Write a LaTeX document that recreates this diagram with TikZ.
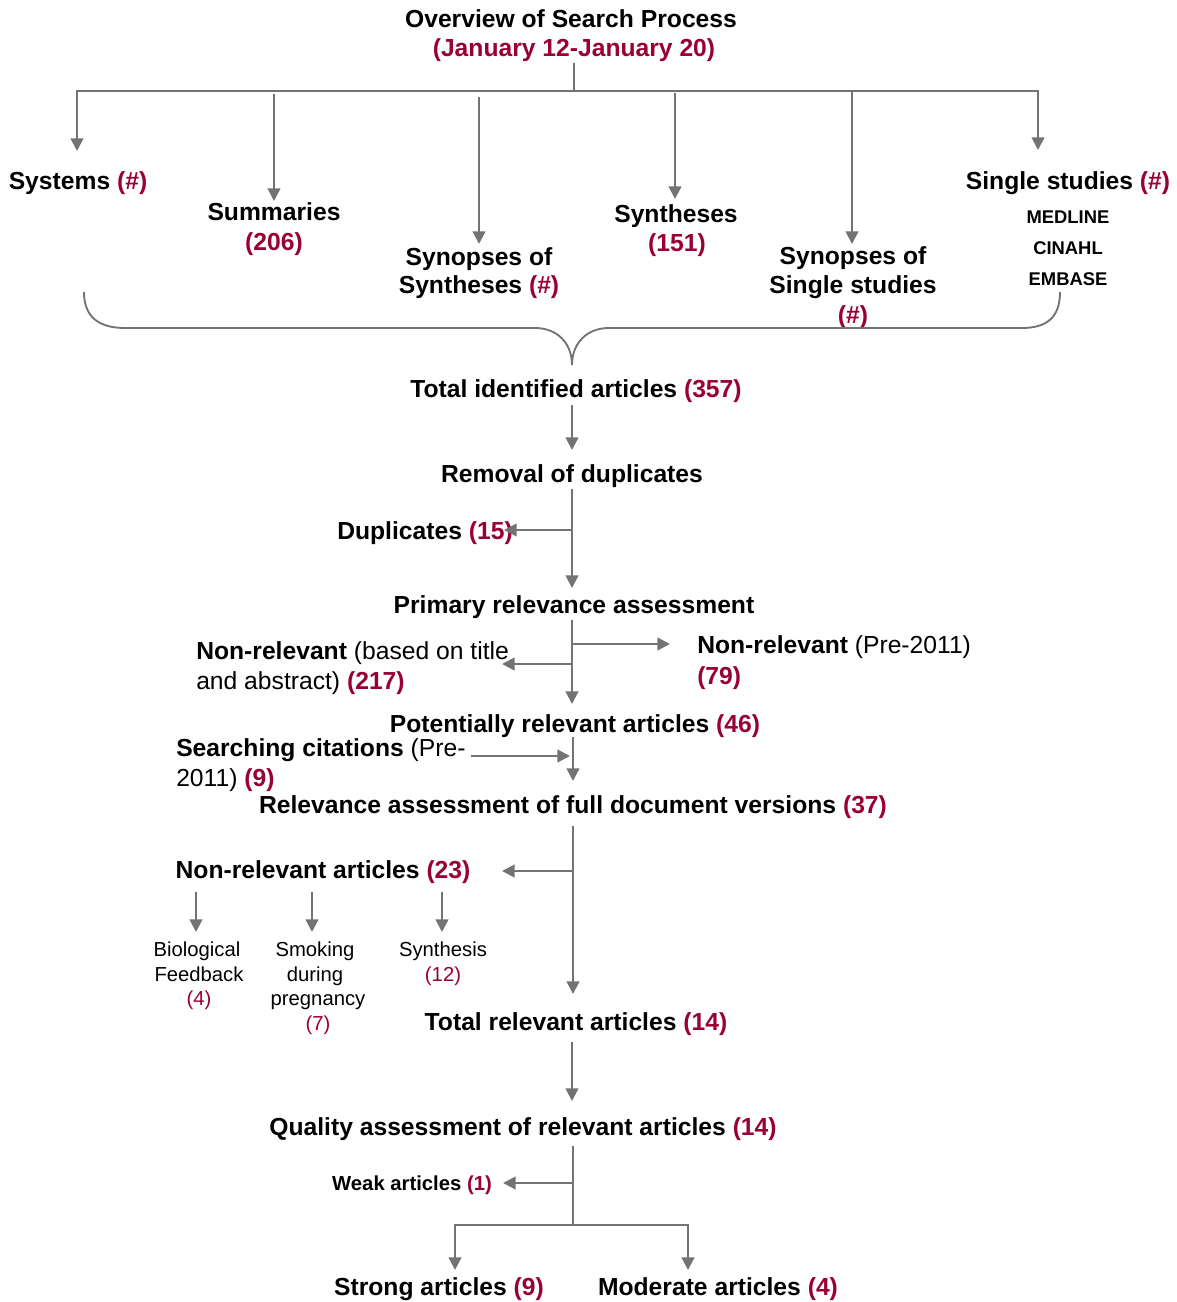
\documentclass[tikz,border=0pt]{standalone}
\usepackage{fontspec}
\setmainfont{Liberation Sans}
\usetikzlibrary{arrows.meta}
\definecolor{nr}{RGB}{153,0,51}
\definecolor{lg}{RGB}{115,115,115}
\newcommand\nm[1]{\textcolor{nr}{#1}}
\begin{document}
\begin{tikzpicture}[x=0.75pt,y=-0.75pt,
 >={Triangle[length=9.5pt,width=9.5pt]},
 ln/.style={draw=lg,line width=1.6pt},
 arr/.style={ln,->},
 big/.style={font=\fontsize{18.5}{22}\selectfont\bfseries,inner sep=0pt,anchor=base},
 mix/.style={font=\fontsize{18.5}{22}\selectfont,inner sep=0pt,anchor=base west},
 med/.style={font=\fontsize{15.2}{18}\selectfont\bfseries,inner sep=0pt,anchor=base},
 sml/.style={font=\fontsize{13.8}{16}\selectfont\bfseries,inner sep=0pt,anchor=base},
 reg/.style={font=\fontsize{15.2}{18}\selectfont,inner sep=0pt,anchor=base}]
\useasboundingbox (0,0) rectangle (1177,1302);

% ---------- texts ----------
\node[big] (t1) at (571,28) {Overview of Search Process};
\node[big] (t2) at (574,57) {\nm{(January 12-January 20)}};
\node[big] (sys) at (78,190) {Systems \nm{(\#)}};
\node[big] (sum1) at (274,220) {Summaries};
\node[big] (sum2) at (274,250) {\nm{(206)}};
\node[big] (sos1) at (479,265) {Synopses of};
\node[big] (sos2) at (479,293) {Syntheses \nm{(\#)}};
\node[big] (syn1) at (676,222) {Syntheses};
\node[big] (syn2) at (677,251) {\nm{(151)}};
\node[big] (sss1) at (853,264) {Synopses of};
\node[big] (sss2) at (853,293) {Single studies};
\node[big] (sss3) at (853,323) {\nm{(\#)}};
\node[big] (ss) at (1068,190) {Single studies \nm{(\#)}};
\node[sml] (db1) at (1068,223) {MEDLINE};
\node[sml] (db2) at (1068,254) {CINAHL};
\node[sml] (db3) at (1068,285) {EMBASE};
\node[big] (tia) at (576,397) {Total identified articles \nm{(357)}};
\node[big] (rem) at (572,482) {Removal of duplicates};
\node[big] (dup) at (425,539) {Duplicates \nm{(15)}};
\node[big] (pra) at (574,613) {Primary relevance assessment};
\node[mix] (nrt1) at (196,659) {\textbf{Non-relevant} (based on title};
\node[mix] (nrt2) at (196,689) {and abstract) \textbf{\nm{(217)}}};
\node[mix] (nrp1) at (697,653) {\textbf{Non-relevant} (Pre-2011)};
\node[mix] (nrp2) at (697,684) {\textbf{\nm{(79)}}};
\node[big] (pot) at (575,732) {Potentially relevant articles \nm{(46)}};
\node[mix] (sc1) at (176,756) {\textbf{Searching citations} (Pre-};
\node[mix] (sc2) at (176,786) {2011) \textbf{\nm{(9)}}};
\node[big] (raf) at (573,813) {Relevance assessment of full document versions \nm{(37)}};
\node[big] (nra) at (323,878) {Non-relevant articles \nm{(23)}};
\node[reg] (bf1) at (197,956) {Biological};
\node[reg] (bf2) at (199,981) {Feedback};
\node[reg] (bf3) at (199,1005) {\nm{(4)}};
\node[reg] (sp1) at (315,956) {Smoking};
\node[reg] (sp2) at (315,981) {during};
\node[reg] (sp3) at (318,1005) {pregnancy};
\node[reg] (sp4) at (318,1030) {\nm{(7)}};
\node[reg] (sy1) at (443,956) {Synthesis};
\node[reg] (sy2) at (443,981) {\nm{(12)}};
\node[big] (tra) at (576,1030) {Total relevant articles \nm{(14)}};
\node[big] (qa) at (523,1135) {Quality assessment of relevant articles \nm{(14)}};
\node[med] (weak) at (412,1190) {Weak articles \nm{(1)}};
\node[big] (strong) at (439,1295) {Strong articles \nm{(9)}};
\node[big] (mod) at (718,1295) {Moderate articles \nm{(4)}};

% ---------- junction coordinates ----------
\coordinate (tA) at (574,63);
\coordinate (tB) at (574,91);
\coordinate (bL) at (77,91);
\coordinate (bR) at (1038,91);
\coordinate (sysT) at (77,151);
\coordinate (ssT) at (1038,150);
\coordinate (sumA) at (274,94);  \coordinate (sumT) at (274,201);
\coordinate (sosA) at (479,97);  \coordinate (sosT) at (479,244);
\coordinate (synA) at (675,93);  \coordinate (synT) at (675,199);
\coordinate (sssA) at (852,92);  \coordinate (sssT) at (852,244);

\coordinate (a1s) at (572,405); \coordinate (a1e) at (572,450);
\coordinate (a2s) at (572,489); \coordinate (a2e) at (572,588);
\coordinate (a2b) at (572,530); \coordinate (dupT) at (504,530);
\coordinate (a3s) at (572,620); \coordinate (a3e) at (572,704);
\coordinate (a3r) at (572,644); \coordinate (nrpT) at (670,644);
\coordinate (a3l) at (572,664); \coordinate (nrtT) at (502,664);
\coordinate (a4s) at (573,737); \coordinate (a4e) at (573,781);
\coordinate (scS) at (471,756); \coordinate (scT) at (570,756);
\coordinate (a5s) at (573,826); \coordinate (a5e) at (573,994);
\coordinate (a5b) at (573,871); \coordinate (nraT) at (502,871);
\coordinate (b1s) at (196,892); \coordinate (b1e) at (196,932);
\coordinate (b2s) at (312,892); \coordinate (b2e) at (312,932);
\coordinate (b3s) at (442,892); \coordinate (b3e) at (442,932);
\coordinate (a6s) at (572,1042); \coordinate (a6e) at (572,1101);
\coordinate (a7s) at (573,1146); \coordinate (a7b) at (573,1183);
\coordinate (weakT) at (503,1183); \coordinate (a7e) at (573,1225);
\coordinate (hl) at (455,1225); \coordinate (hr) at (688,1225);
\coordinate (stT) at (455,1270); \coordinate (moT) at (688,1270);

% ---------- connectors ----------
\draw[ln] (tA) -- (tB);
\draw[ln,<->] (sysT) -- (bL) -- (bR) -- (ssT);
\draw[arr] (sumA) -- (sumT);
\draw[arr] (sosA) -- (sosT);
\draw[arr] (synA) -- (synT);
\draw[arr] (sssA) -- (sssT);

% brace
\draw[ln,line width=1.4pt] (84,292) .. controls (84,318) and (100,328) .. (125,328)
  -- (535,328) .. controls (557,328) and (572,343) .. (572,365)
  .. controls (572,343) and (587,328) .. (609,328)
  -- (1022,328) .. controls (1046,328) and (1060,318) .. (1060,292);

\draw[arr] (a1s) -- (a1e);
\draw[arr] (a2s) -- (a2e);
\draw[arr] (a2b) -- (dupT);
\draw[arr] (a3s) -- (a3e);
\draw[arr] (a3r) -- (nrpT);
\draw[arr] (a3l) -- (nrtT);
\draw[arr] (a4s) -- (a4e);
\draw[arr] (scS) -- (scT);
\draw[arr] (a5s) -- (a5e);
\draw[arr] (a5b) -- (nraT);
\draw[arr] (b1s) -- (b1e);
\draw[arr] (b2s) -- (b2e);
\draw[arr] (b3s) -- (b3e);
\draw[arr] (a6s) -- (a6e);
\draw[ln] (a7s) -- (a7e);
\draw[arr] (a7b) -- (weakT);
\draw[ln,<->] (stT) -- (hl) -- (hr) -- (moT);
\end{tikzpicture}
\end{document}
